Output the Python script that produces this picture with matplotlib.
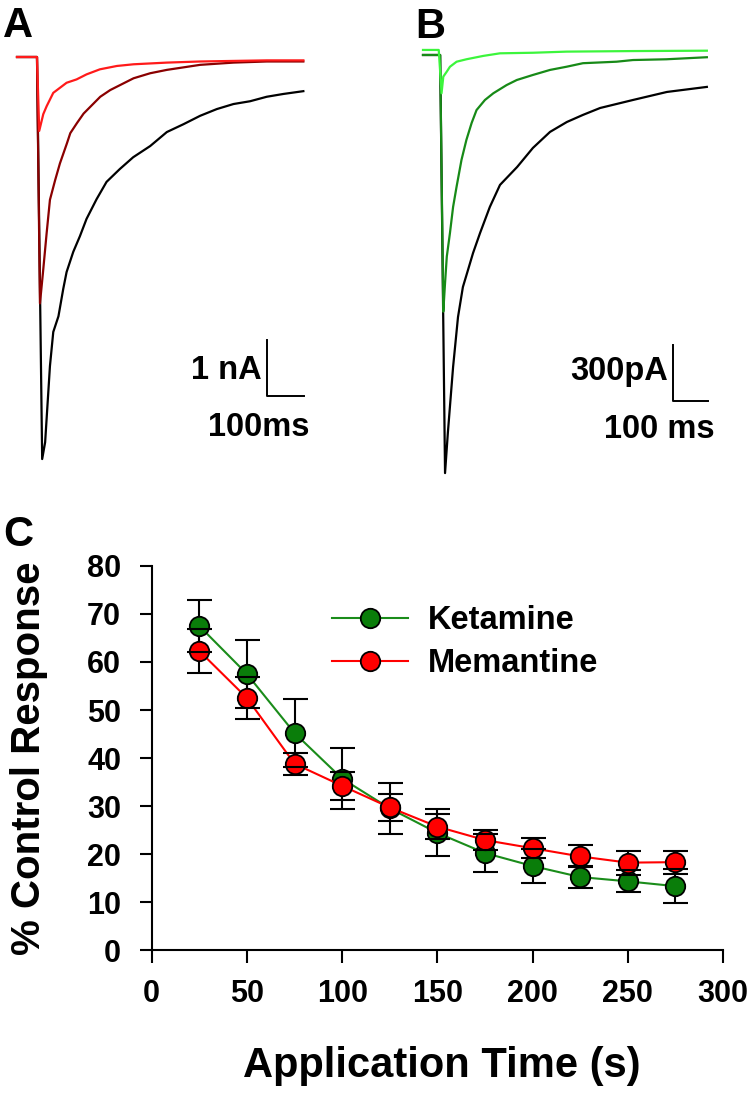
import matplotlib
matplotlib.use('Agg')
import matplotlib.pyplot as plt

plt.rcParams['font.family'] = ['Liberation Sans', 'DejaVu Sans']
plt.rcParams['font.weight'] = 'bold'
plt.rcParams['axes.labelweight'] = 'bold'

# ---- Panel A: currents (time in ms, current in nA) ----
a_ctrl_t = [0, 54, 68, 76, 89, 98, 112, 125, 134, 152, 170, 188, 215, 242, 278, 314,
            360, 405, 450, 495, 540, 585, 630, 675, 720, 774]
a_ctrl_i = [0, 0, -7.18, -6.88, -5.52, -4.91, -4.63, -4.14, -3.84, -3.48, -3.20, -2.89,
            -2.54, -2.23, -2.00, -1.79, -1.59, -1.34, -1.20, -1.05, -0.93, -0.84, -0.79,
            -0.71, -0.66, -0.61]
a_mid_t = [0, 54, 62, 70, 80, 89, 103, 116, 135, 144, 162, 180, 207, 225, 252, 270, 315,
           360, 405, 495, 585, 675, 774]
a_mid_i = [0, 0, -4.40, -3.86, -3.15, -2.55, -2.20, -1.90, -1.54, -1.36, -1.18, -1.01,
           -0.83, -0.71, -0.59, -0.53, -0.38, -0.29, -0.23, -0.14, -0.10, -0.08, -0.08]
a_late_t = [0, 54, 60, 71, 80, 89, 98, 116, 134, 161, 188, 224, 270, 315, 405, 495, 585,
            675, 774]
a_late_i = [0, 0, -1.32, -1.02, -0.88, -0.76, -0.64, -0.55, -0.46, -0.40, -0.31, -0.22,
            -0.16, -0.13, -0.10, -0.08, -0.07, -0.06, -0.06]

# ---- Panel B: currents (time in ms, current in pA) ----
b_ctrl_t = [0, 49, 63, 71, 86, 100, 114, 126, 143, 163, 191, 220, 269, 314, 363, 411, 457,
            506, 600, 697, 811]
b_ctrl_i = [0, 0, -2240, -2025, -1671, -1404, -1243, -1168, -1061, -954, -814, -696, -600,
            -498, -412, -359, -321, -284, -241, -198, -171]
b_mid_t = [0, 49, 58, 63, 68, 77, 86, 96, 110, 124, 139, 153, 177, 201, 239, 268, 314, 363,
           410, 457, 553, 600, 695, 811]
b_mid_i = [0, 0, -1375, -1221, -1080, -954, -814, -705, -562, -455, -364, -295, -241, -205,
           -161, -134, -107, -80, -63, -44, -36, -27, -23, -12]
b_late_t = [0, 45, 53, 58, 68, 77, 96, 124, 172, 220, 314, 410, 600, 811]
b_late_i = [27, 27, -205, -116, -89, -63, -36, -23, -5, 9, 12, 18, 21, 23]

# ---- Panel C ----
app_time = [25, 50, 75, 100, 125, 150, 175, 200, 225, 250, 275]
ketamine = [67.5, 57.5, 45.2, 35.7, 29.5, 24.4, 20.2, 17.5, 15.2, 14.3, 13.3]
ketamine_err = [5.5, 7.0, 7.1, 6.4, 5.3, 4.9, 3.9, 3.5, 2.3, 2.3, 3.5]
memantine = [62.3, 52.5, 38.8, 34.2, 29.7, 25.7, 22.9, 21.2, 19.5, 18.2, 18.3]
memantine_err = [4.5, 4.3, 2.3, 2.9, 2.9, 2.6, 2.1, 2.1, 2.3, 2.5, 2.4]

W, H = 752, 1096
fig = plt.figure(figsize=(W / 100, H / 100), dpi=100)


def px_axes(x0, y0, x1, y1):
    return fig.add_axes([x0 / W, 1 - y1 / H, (x1 - x0) / W, (y1 - y0) / H])


# Panel A
axA = px_axes(0, 0, 320, 480)
axA.plot(a_ctrl_t, a_ctrl_i, color='black', lw=1.6)
axA.plot(a_mid_t, a_mid_i, color='#8a0000', lw=1.6)
axA.plot(a_late_t, a_late_i, color='#ff1a1a', lw=1.6)
axA.set_xlim(-46, 819)
axA.set_ylim(-7.554, 1.018)
axA.plot([676, 676, 776], [-5.05, -6.05, -6.05], color='black', lw=1.4)
axA.text(662, -5.59, '1 nA', ha='right', va='center', fontsize=23.5)
axA.text(654, -6.61, '100ms', ha='center', va='center', fontsize=23.5)
axA.axis('off')

# Panel B
axB = px_axes(400, 0, 752, 480)
axB.plot(b_ctrl_t, b_ctrl_i, color='black', lw=1.6)
axB.plot(b_mid_t, b_mid_i, color='#178a17', lw=1.6)
axB.plot(b_late_t, b_late_i, color='#3cf53c', lw=1.6)
axB.set_xlim(-65.7, 940)
axB.set_ylim(-2277, 294.6)
axB.plot([714, 714, 814], [-1554, -1854, -1854], color='black', lw=1.4)
axB.text(700, -1698, '300pA', ha='right', va='center', fontsize=23.5)
axB.text(674, -2009, '100 ms', ha='center', va='center', fontsize=23.5)
axB.axis('off')

# Panel C
axC = px_axes(151.7, 566, 723, 950)
green_line, = axC.plot(app_time, ketamine, '-o', color='#1a8c1a', lw=1.5,
                       mfc='#0a7d0a', mec='black', mew=1.3, ms=14, zorder=3,
                       label='Ketamine')
red_line, = axC.plot(app_time, memantine, '-o', color='#ff0000', lw=1.5,
                     mfc='#ff0000', mec='black', mew=1.3, ms=14, zorder=4,
                     label='Memantine')
for vals, errs in [(ketamine, ketamine_err), (memantine, memantine_err)]:
    eb = axC.errorbar(app_time, vals, yerr=errs, fmt='none', ecolor='black',
                      elinewidth=1.5, capsize=9, capthick=1.5)
    eb[2][0].set_zorder(2)
    for cap in eb[1]:
        cap.set_zorder(5)

axC.set_xlim(0, 300)
axC.set_ylim(0, 80)
axC.set_xticks(range(0, 301, 50))
axC.set_yticks(range(0, 81, 10))
axC.spines['top'].set_visible(False)
axC.spines['right'].set_visible(False)
for s in ['left', 'bottom']:
    axC.spines[s].set_linewidth(1.5)
axC.tick_params(direction='out', length=9, width=1.5, labelsize=22)
axC.tick_params(axis='x', pad=12)
axC.tick_params(axis='y', pad=13)
axC.set_xlabel('Application Time (s)', fontsize=30)
axC.set_ylabel('% Control Response', fontsize=29)
axC.xaxis.set_label_coords(0.507, -0.25)
axC.yaxis.set_label_coords(-0.182, 0.5)
axC.legend(handles=[green_line, red_line], loc='upper left',
           bbox_to_anchor=((331.5 - 151.7) / 571.3, (950 - 605) / 384),
           frameon=False, fontsize=23.5, handlelength=2.35, handletextpad=0.6,
           borderpad=0, borderaxespad=0, labelspacing=0.38)

# panel letters
fig.text(3 / W, 1 - 37 / H, 'A', fontsize=30, va='baseline')
fig.text(415 / W, 1 - 38 / H, 'B', fontsize=30, va='baseline')
fig.text(3 / W, 1 - 546 / H, 'C', fontsize=30, va='baseline')

fig.savefig('out.png', dpi=100)
